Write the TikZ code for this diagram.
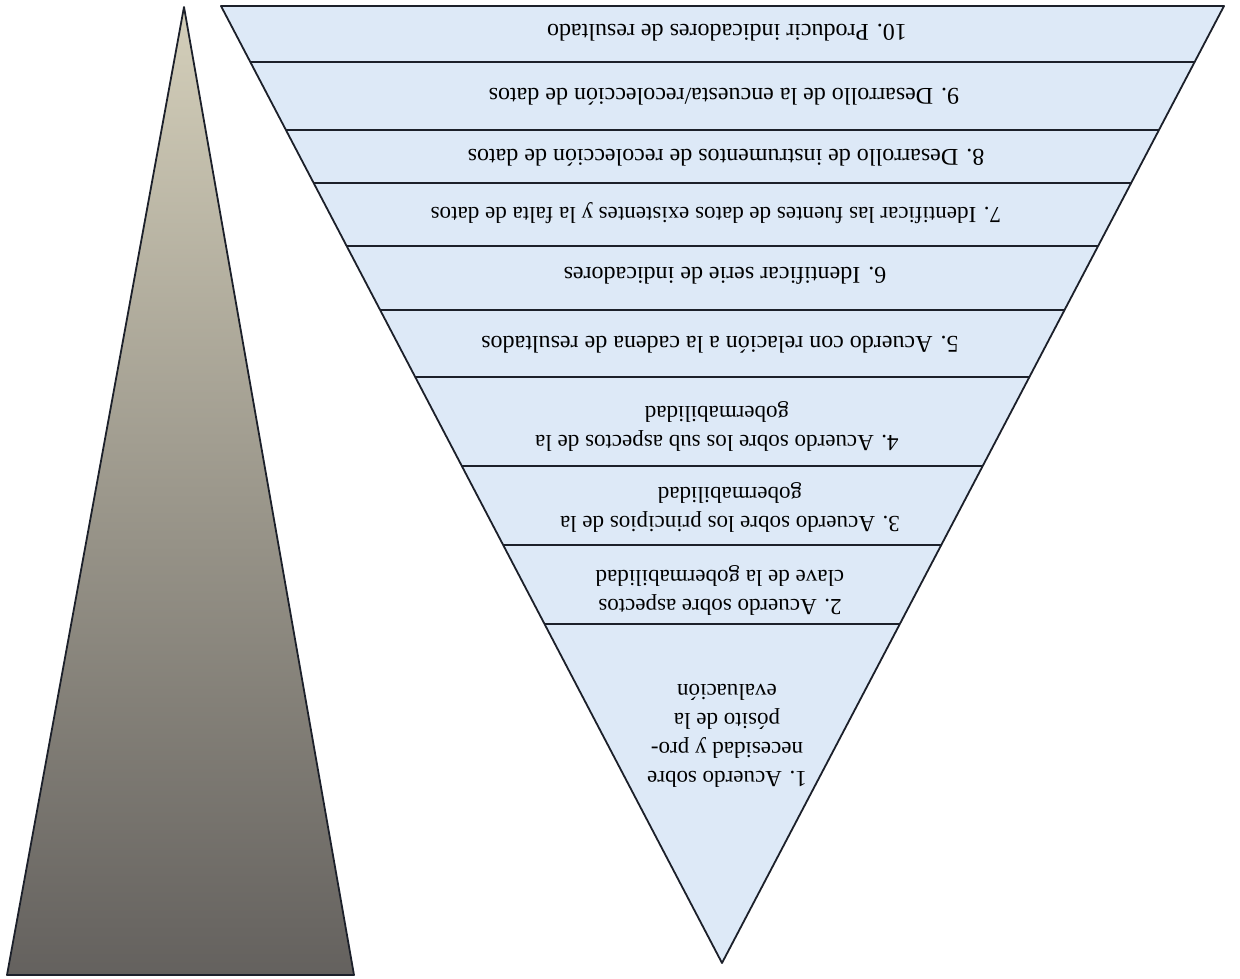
\documentclass[tikz,border=0pt]{standalone}
\usepackage{fontspec}
\setmainfont{Liberation Serif}
\usetikzlibrary{positioning,calc}
\definecolor{bandblue}{RGB}{221,233,247}
\definecolor{edgenavy}{RGB}{28,32,42}
\definecolor{khakitop}{RGB}{212,207,186}
\definecolor{khakimid}{RGB}{180,175,160}
\definecolor{greybottom}{RGB}{100,97,94}
\tikzstyle{edge} = [draw=edgenavy,line width=1.8pt,line join=round]
\tikzstyle{steptext} = [rotate=180,align=center,inner sep=0pt,font=\fontsize{24}{28}\selectfont]
\tikzstyle{widetext} = [rotate=180,align=center,inner sep=0pt,font=\fontsize{23}{29}\selectfont]

\begin{document}
\begin{tikzpicture}[x=1pt,y=-1pt]
    \useasboundingbox (0,0) rectangle (1240,979);

    % shaded spike on the left
    \coordinate (spike) at (184,7);
    \coordinate (spikeL) at (7,975);
    \coordinate (spikeR) at (354,975);
    \shade [top color=khakitop,middle color=khakimid,bottom color=greybottom] (spike) -- (spikeL) -- (spikeR) -- cycle;
    \draw [edge] (spike) -- (spikeL) -- (spikeR) -- cycle;

    % inverted funnel
    \coordinate (tl) at (221,6);
    \coordinate (tr) at (1224,6);
    \coordinate (apex) at (722,963);
    \draw [edge,fill=bandblue] (tl) -- (tr) -- (apex) -- cycle;
    \foreach \y in {62,130,183,246,310,377,466,545,624}
      \draw [edge] ($(tl)!{(\y-6)/957}!(apex)$) -- ($(tr)!{(\y-6)/957}!(apex)$);

    \node [steptext] (s10) at (727,33) {10. Producir indicadores de resultado};
    \node [steptext] (s9) at (724,97) {9. Desarrollo de la encuesta/recolección de datos};
    \node [steptext] (s8) at (726,158) {8. Desarrollo de instrumentos de recolección de datos};
    \node [steptext,font=\fontsize{23}{28}\selectfont] (s7) at (716,213) {7. Identificar las fuentes de datos existentes y la falta de datos};
    \node [steptext] (s6) at (725,276) {6. Identificar serie de indicadores};
    \node [steptext] (s5) at (720,345) {5. Acuerdo con relación a la cadena de resultados};
    \node [widetext] (s4) at (717,426) {4. Acuerdo sobre los sub aspectos de la\\gobermabilidad};
    \node [widetext] (s3) at (730,507) {3. Acuerdo sobre los principios de la\\gobermabilidad};
    \node [widetext] (s2) at (720,590) {2. Acuerdo sobre aspectos\\clave de la gobermabilidad};
    \node [widetext] (s1) at (727,736) {1. Acuerdo sobre\\necesidad y pro-\\pósito de la\\evaluación};
\end{tikzpicture}
\end{document}
